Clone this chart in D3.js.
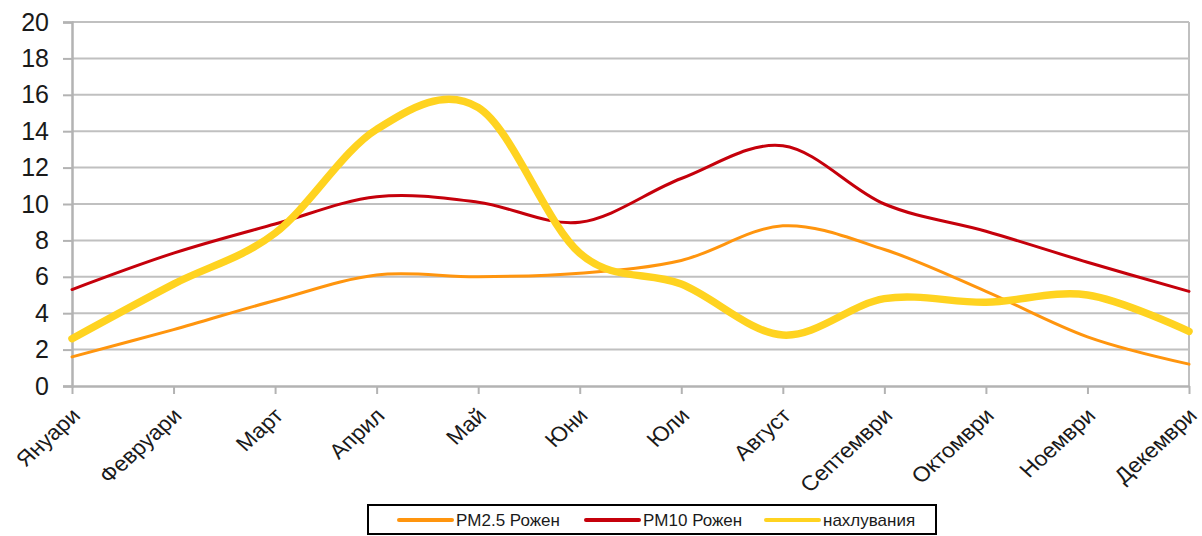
<!DOCTYPE html>
<html>
<head>
<meta charset="utf-8">
<script src="https://cdn.jsdelivr.net/npm/d3@7"></script>
<style>
  html, body { margin: 0; padding: 0; background: #fff; }
  svg { display: block; font-family: "Liberation Sans", Arial, sans-serif; }
</style>
</head>
<body>
<svg id="chart" width="1202" height="536"></svg>
<script>
// Monthly values for Рожен
const months = ["Януари", "Февруари", "Март", "Април", "Май", "Юни", "Юли", "Август", "Септември", "Октомври", "Ноември", "Декември"];
const pm25 = [1.6, 3.1, 4.7, 6.1, 6.0, 6.2, 6.9, 8.8, 7.5, 5.2, 2.7, 1.2];
const pm10 = [5.3, 7.3, 8.9, 10.4, 10.1, 9.0, 11.4, 13.2, 10.0, 8.5, 6.8, 5.2];
const nahluvania = [2.6, 5.6, 8.4, 14.1, 15.3, 7.3, 5.6, 2.8, 4.8, 4.6, 5.0, 3.0];
const yTicks = [0, 2, 4, 6, 8, 10, 12, 14, 16, 18, 20];

const seriesNames = ["PM2.5 Рожен", "PM10 Рожен", "нахлувания"];
const seriesColors = ["#ff950e", "#c5000b", "#ffd320"];
const seriesWidths = [3, 3, 7.5];
const seriesData = [pm25, pm10, nahluvania];

const svg = d3.select("#chart");
const plot = { left: 72, right: 1189, top: 22, bottom: 386 };

const x = d3.scalePoint().domain(months).range([plot.left, plot.right]);
const y = d3.scaleLinear().domain([0, 20]).range([plot.bottom, plot.top]);

const gridColor = "#c0c0c0";
const textColor = "#1a1a1a";

// horizontal grid lines
svg.append("g")
  .selectAll("line")
  .data(yTicks.filter(d => d > 0))
  .join("line")
  .attr("x1", plot.left).attr("x2", plot.right)
  .attr("y1", d => y(d)).attr("y2", d => y(d))
  .attr("stroke", gridColor).attr("stroke-width", 2);

// right border of the plot area
svg.append("line")
  .attr("x1", plot.right).attr("x2", plot.right)
  .attr("y1", plot.top).attr("y2", plot.bottom)
  .attr("stroke", gridColor).attr("stroke-width", 2);

// y axis
const yAxis = svg.append("g")
  .attr("transform", `translate(${plot.left},0)`)
  .call(d3.axisLeft(y).tickValues(yTicks).tickSize(9).tickPadding(14));
yAxis.select(".domain").attr("stroke", "#b3b3b3").attr("stroke-width", 2.5);
yAxis.selectAll(".tick line").attr("stroke", "#b3b3b3").attr("stroke-width", 2);
yAxis.selectAll(".tick text")
  .attr("font-size", 25).attr("fill", textColor)
  .attr("font-family", "Liberation Sans, Arial, sans-serif");

// x axis with slanted month labels
const xAxis = svg.append("g")
  .attr("transform", `translate(0,${plot.bottom})`)
  .call(d3.axisBottom(x).tickSize(8).tickSizeOuter(0));
xAxis.select(".domain").attr("stroke", "#b3b3b3").attr("stroke-width", 2.5);
xAxis.selectAll(".tick line").attr("stroke", "#b3b3b3").attr("stroke-width", 2);
xAxis.selectAll(".tick text")
  .attr("font-size", 21).attr("fill", textColor)
  .attr("font-family", "Liberation Sans, Arial, sans-serif")
  .attr("text-anchor", "end")
  .attr("dy", 0)
  .attr("y", 0)
  .attr("transform", "translate(9,31) scale(1.1,1) rotate(-45)");

// smoothed series lines
const line = d3.line()
  .x((d, i) => x(months[i]))
  .y(d => y(d))
  .curve(d3.curveCardinal.tension(0));

svg.append("g")
  .selectAll("path")
  .data(seriesData)
  .join("path")
  .attr("d", d => line(d))
  .attr("fill", "none")
  .attr("stroke", (d, i) => seriesColors[i])
  .attr("stroke-width", (d, i) => seriesWidths[i])
  .attr("stroke-linejoin", "round")
  .attr("stroke-linecap", "round");

// legend
const legend = svg.append("g");
legend.append("rect")
  .attr("x", 368).attr("y", 505)
  .attr("width", 568).attr("height", 29)
  .attr("fill", "#fff").attr("stroke", "#000").attr("stroke-width", 2);

const legendX = [399, 586, 766];
const item = legend.selectAll("g.item")
  .data(seriesNames)
  .join("g")
  .attr("class", "item")
  .attr("transform", (d, i) => `translate(${legendX[i]},520)`);
item.append("line")
  .attr("x1", 0).attr("x2", 53)
  .attr("stroke", (d, i) => seriesColors[i])
  .attr("stroke-width", 4)
  .attr("stroke-linecap", "round");
item.append("text")
  .attr("x", 57).attr("y", 0).attr("dy", "0.35em")
  .attr("font-size", 17).attr("fill", textColor)
  .text(d => d);
</script>
</body>
</html>
